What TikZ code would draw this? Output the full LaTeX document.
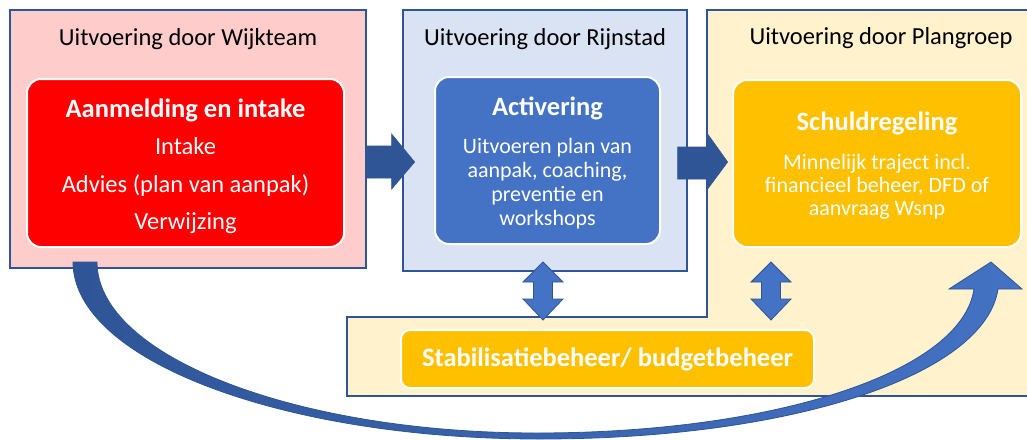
\documentclass[tikz,border=0pt]{standalone}
\usepackage{fontspec}
\setmainfont{Carlito}
\usetikzlibrary{calc}
\definecolor{wijkpink}{RGB}{255,204,204}
\definecolor{rijnblue}{RGB}{218,227,243}
\definecolor{plancream}{RGB}{255,242,204}
\definecolor{frameblue}{RGB}{47,85,151}
\definecolor{midblue}{RGB}{68,114,196}
\definecolor{gold}{RGB}{255,192,0}

\begin{document}
\begin{tikzpicture}[x=1pt,y=-1pt,
	panel/.style={rectangle,draw=frameblue,line width=1.3pt},
	paneltitle/.style={anchor=base,font=\fontsize{24.5}{28}\selectfont,text=black},
	inbox/.style={rectangle,rounded corners=14pt,draw=white,line width=2pt,text=white,align=center},
	blockarrow/.style={fill=frameblue,draw=frameblue,line width=0.6pt},
	dblarrow/.style={fill=midblue,draw=frameblue,line width=0.8pt}]
	\useasboundingbox (0,0) rectangle (1027,439);
	\fill[white] (0,0) rectangle (1027,439);
	% panels
	\node[panel,fill=wijkpink,minimum width=356pt,minimum height=258pt] (wijk) at (188,139) {};
	\node[panel,fill=rijnblue,minimum width=284pt,minimum height=261pt] (rijn) at (545,140.5) {};
	\draw[frameblue,line width=1.3pt,fill=plancream] (707,10) -- (1035,10) -- (1035,396) -- (347,396) -- (347,317) -- (707,317) -- cycle;
	\node[paneltitle] (t1) at (188,45) {Uitvoering door Wijkteam};
	\node[paneltitle] (t2) at (545,45) {Uitvoering door Rijnstad};
	\node[paneltitle] (t3) at (881,44) {Uitvoering door Plangroep};
	% inner boxes
	\node[inbox,fill=red,minimum width=317pt,minimum height=168pt,font=\fontsize{24.5}{37.5}\selectfont] (intake) at (185.5,163)
		{{\fontsize{26.5}{30}\selectfont\bfseries\rule{0pt}{25pt}Aanmelding en intake}\\Intake\\Advies (plan van aanpak)\\Verwijzing};
	\node[inbox,fill=midblue,minimum width=225pt,minimum height=167pt,font=\fontsize{22}{24}\selectfont] (activ) at (547.5,160.5)
		{{\fontsize{26.5}{30}\selectfont\bfseries\rule{0pt}{23pt}Activering}\\[14pt]Uitvoeren plan van\\aanpak, coaching,\\preventie en\\workshops};
	\node[inbox,fill=gold,minimum width=288pt,minimum height=167pt,font=\fontsize{22}{23}\selectfont] (schuld) at (877,163.5)
		{{\fontsize{26.5}{30}\selectfont\bfseries\rule{0pt}{23pt}Schuldregeling}\\[16pt]Minnelijk traject incl.\\financieel beheer, DFD of\\aanvraag Wsnp};
	\node[inbox,fill=gold,rounded corners=9pt,minimum width=413pt,minimum height=58pt,font=\fontsize{26.5}{30}\selectfont\bfseries] (stab) at (607.5,359)
		{Stabilisatiebeheer/ budgetbeheer};
	% arrows between panels
	\draw[blockarrow] ($(wijk.east)+(0,7)$) -- ++(25,0) -- ++(0,-12) -- ++(23,28) -- ++(-23,27) -- ++(0,-11) -- ++(-25,0) -- cycle;
	\draw[blockarrow] ($(rijn.east)+(-10,6.5)$) -- ++(30,0) -- ++(0,-13) -- ++(20,28) -- ++(-20,27) -- ++(0,-10) -- ++(-30,0) -- cycle;
	% up/down arrows to stabilisatie
	\coordinate (d1) at (543,262);
	\coordinate (d2) at (771,262);
	\foreach \d in {d1,d2}
		\draw[dblarrow] (\d) -- ++(20,20) -- ++(-10.5,0) -- ++(0,17) -- ++(10.5,0) -- ++(-20,21)
			-- ++(-20,-21) -- ++(10.5,0) -- ++(0,-17) -- ++(-10.5,0) -- cycle;
	% curved arrow from wijkteam to plangroep
	\coordinate (cstart) at (73,262);
	\coordinate (cend) at (998,289);
	\shadedraw[left color=frameblue,right color=midblue,draw=frameblue,line width=0.8pt]
		(cstart) .. controls (73,360) and (282,439) .. (540,439) .. controls (793,439) and (985,375) .. (cend)
		-- (1022,289) -- (991,262) -- (949,289) -- (974,289)
		.. controls (962,372) and (775,433) .. (537,433) .. controls (295,433) and (97,356) .. (97,262) -- cycle;
\end{tikzpicture}
\end{document}
